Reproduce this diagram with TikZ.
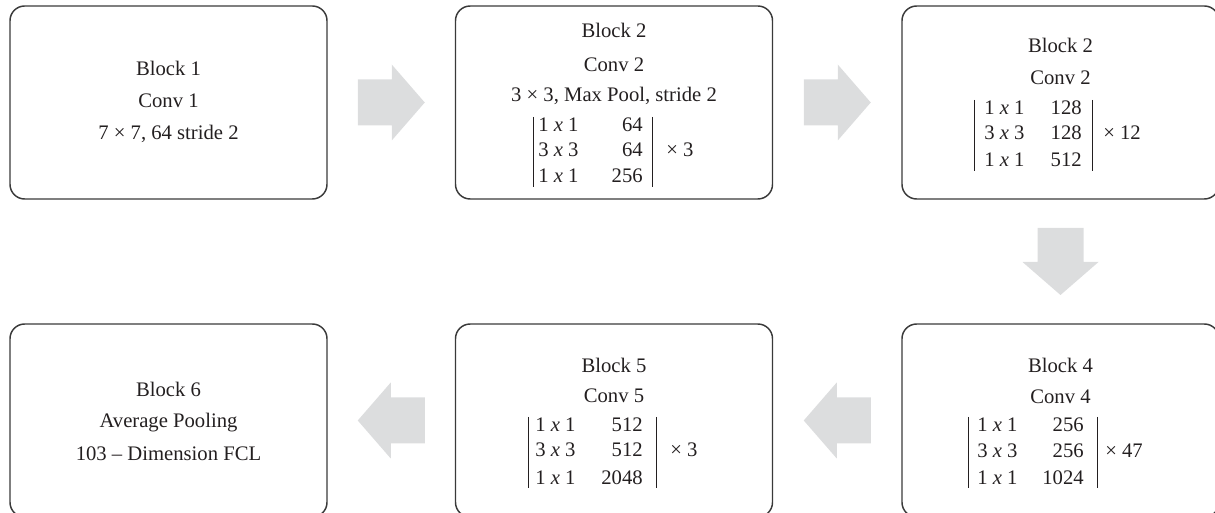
\documentclass[tikz,border=0pt]{standalone}
\usepackage{fontspec}
\setmainfont{Liberation Serif}
\usetikzlibrary{calc}
\definecolor{boxline}{HTML}{3A3A3A}
\definecolor{arrowfill}{HTML}{DCDDDE}
\definecolor{ink}{HTML}{231F20}
\tikzset{
  blockbox/.style={draw=boxline, line width=1.1pt, rounded corners=11pt,
    minimum width=237.75pt, minimum height=144.75pt, inner sep=0pt},
  txt/.style={anchor=base, inner sep=0pt, text=ink, font=\fontsize{15.5}{18}\selectfont},
  colL/.style={txt, anchor=base west},
  colR/.style={txt, anchor=base east},
  mbar/.style={draw=ink, line width=0.65pt},
  bigarrow/.pic={\fill[arrowfill] (-33.5,-23) -- (0.5,-23) -- (0.5,-38) -- (33.5,0)
     -- (0.5,38) -- (0.5,23) -- (-33.5,23) -- cycle;}
}
\begin{document}
\begin{tikzpicture}[x=0.75pt,y=-0.75pt]
\useasboundingbox (0,0) rectangle (1215,513);
\clip (0,0) rectangle (1215,513);
% boxes
\node[blockbox] (b1) at (168.5,102.5) {};
\node[blockbox] (b2) at (614,102.5) {};
\node[blockbox] (b3) at (1060.5,102.5) {};
\node[blockbox] (b6) at (168.5,420.5) {};
\node[blockbox] (b5) at (614,420.5) {};
\node[blockbox] (b4) at (1060.5,420.5) {};
% arrows
\coordinate (m12) at ($(b1.east)!0.5!(b2.west)$);
\coordinate (m23) at ($(b2.east)!0.5!(b3.west)$);
\coordinate (m34) at ($(b3.south)!0.5!(b4.north)$);
\coordinate (m45) at ($(b4.west)!0.5!(b5.east)$);
\coordinate (m56) at ($(b5.west)!0.5!(b6.east)$);
\pic at (m12) {bigarrow};
\pic at (m23) {bigarrow};
\pic[rotate=-90] at (m34) {bigarrow};
\pic[rotate=180] at (m45) {bigarrow};
\pic[rotate=180] at (m56) {bigarrow};
% block 1
\node[txt] (t1a) at (168.5,76) {Block 1};
\node[txt] (t1b) at (168.5,108) {Conv 1};
\node[txt] (t1c) at (168.5,140) {7 × 7, 64 stride 2};
% block 2
\node[txt] (t2a) at (614,38) {Block 2};
\node[txt] (t2b) at (614,72) {Conv 2};
\node[txt] (t2c) at (614,102) {3 × 3, Max Pool, stride 2};
\node[colL] (t2r1a) at (538,132) {1 \textit{x} 1};
\node[colL] (t2r2a) at (538,157) {3 \textit{x} 3};
\node[colL] (t2r3a) at (538,183) {1 \textit{x} 1};
\node[colR] (t2r1b) at (643,132) {64};
\node[colR] (t2r2b) at (643,157) {64};
\node[colR] (t2r3b) at (643,183) {256};
\draw[mbar] (533,117) -- (533,187);
\draw[mbar] (652,117) -- (652,187);
\node[colL] (t2x) at (666,157) {× 3};
% block 3
\node[txt] (t3a) at (1060.5,53) {Block 2};
\node[txt] (t3b) at (1060.5,85) {Conv 2};
\node[colL] (t3r1a) at (984,115) {1 \textit{x} 1};
\node[colL] (t3r2a) at (984,140) {3 \textit{x} 3};
\node[colL] (t3r3a) at (984,167) {1 \textit{x} 1};
\node[colR] (t3r1b) at (1082,115) {128};
\node[colR] (t3r2b) at (1082,140) {128};
\node[colR] (t3r3b) at (1082,167) {512};
\draw[mbar] (974,100) -- (974,171);
\draw[mbar] (1092,100) -- (1092,171);
\node[colL] (t3x) at (1103,140) {× 12};
% block 6
\node[txt] (t6a) at (168.5,397) {Block 6};
\node[txt] (t6b) at (168.5,428) {Average Pooling};
\node[txt] (t6c) at (168.5,460) {103 – Dimension FCL};
% block 5
\node[txt] (t5a) at (614,373) {Block 5};
\node[txt] (t5b) at (614,403) {Conv 5};
\node[colL] (t5r1a) at (535,432) {1 \textit{x} 1};
\node[colL] (t5r2a) at (535,457) {3 \textit{x} 3};
\node[colL] (t5r3a) at (535,484) {1 \textit{x} 1};
\node[colR] (t5r1b) at (643,432) {512};
\node[colR] (t5r2b) at (643,457) {512};
\node[colR] (t5r3b) at (643,484) {2048};
\draw[mbar] (528,417) -- (528,488);
\draw[mbar] (656,417) -- (656,488);
\node[colL] (t5x) at (670,457) {× 3};
% block 4
\node[txt] (t4a) at (1060.5,373) {Block 4};
\node[txt] (t4b) at (1060.5,404) {Conv 4};
\node[colL] (t4r1a) at (977,432) {1 \textit{x} 1};
\node[colL] (t4r2a) at (977,458) {3 \textit{x} 3};
\node[colL] (t4r3a) at (977,484) {1 \textit{x} 1};
\node[colR] (t4r1b) at (1084,432) {256};
\node[colR] (t4r2b) at (1084,458) {256};
\node[colR] (t4r3b) at (1084,484) {1024};
\draw[mbar] (968,417) -- (968,488);
\draw[mbar] (1097,417) -- (1097,488);
\node[colL] (t4x) at (1105,458) {× 47};
\end{tikzpicture}
\end{document}
